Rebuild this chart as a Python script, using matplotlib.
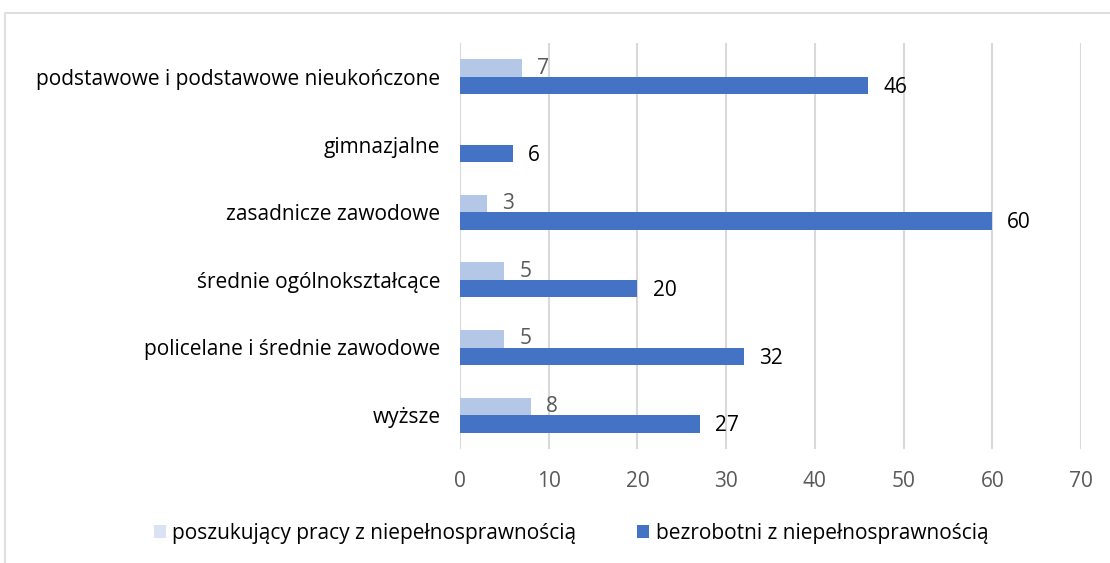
import matplotlib.pyplot as plt
from matplotlib.patches import Rectangle, Patch

plt.rcParams['font.family'] = ['Open Sans', 'DejaVu Sans']

# data (top to bottom)
categories = ['podstawowe i podstawowe nieukończone', 'gimnazjalne', 'zasadnicze zawodowe',
              'średnie ogólnokształcące', 'policelane i średnie zawodowe', 'wyższe']
poszukujacy = [7, None, 3, 5, 5, 8]
bezrobotni = [46, 6, 60, 20, 32, 27]
x_ticks = [0, 10, 20, 30, 40, 50, 60, 70]

light = '#B4C7E7'
dark = '#4472C4'
fs = 15

W, H = 1110, 563
fig = plt.figure(figsize=(W / 100, H / 100), dpi=100)
ax = fig.add_axes([460 / W, 1 - 449 / H, (1081 - 460) / W, (449 - 43) / H])

# outer border like the office chart frame
fig.patches.append(Rectangle((5 / W, -0.1), 1.2, 1 - 13 / H + 0.1, transform=fig.transFigure,
                             fill=False, edgecolor='#D9D9D9', linewidth=1.2))

n = len(categories)
ys = [n - 1 - i for i in range(n)]
h = 0.26
for y, v in zip(ys, poszukujacy):
    if v is None:
        continue
    ax.barh(y + h / 2, v, height=h, color=light, zorder=3)
    ax.text(v + 1.7, y + h / 2, str(v), va='center', ha='left', fontsize=fs, color='#595959')
for y, v in zip(ys, bezrobotni):
    ax.barh(y - h / 2, v, height=h, color=dark, zorder=3)
    ax.text(v + 1.7, y - h / 2 - 0.03, str(v), va='center', ha='left', fontsize=fs, color='black')

ax.set_xlim(0, 70)
ax.set_ylim(-0.5, n - 0.5)
ax.set_xticks(x_ticks)
ax.set_xticklabels([str(t) for t in x_ticks], fontsize=fs, color='#595959')
ax.set_yticks(ys)
ax.set_yticklabels(categories, fontsize=fs, color='black')
ax.tick_params(axis='both', length=0)
ax.tick_params(axis='x', pad=16)
ax.tick_params(axis='y', pad=14)
ax.grid(axis='x', color='#D9D9D9', linewidth=1.5, zorder=0)
for s in ax.spines.values():
    s.set_visible(False)

handles = [Patch(facecolor='#DAE3F3', label='poszukujący pracy z niepełnosprawnością'),
           Patch(facecolor=dark, label='bezrobotni z niepełnosprawnością')]
fig.legend(handles=handles, loc='center', bbox_to_anchor=(571 / W, 1 - 533 / H), ncol=2,
           frameon=False, fontsize=fs, handlelength=0.6, handleheight=0.6,
           handletextpad=0.3, columnspacing=2.9)

fig.savefig('out.png', dpi=100)
